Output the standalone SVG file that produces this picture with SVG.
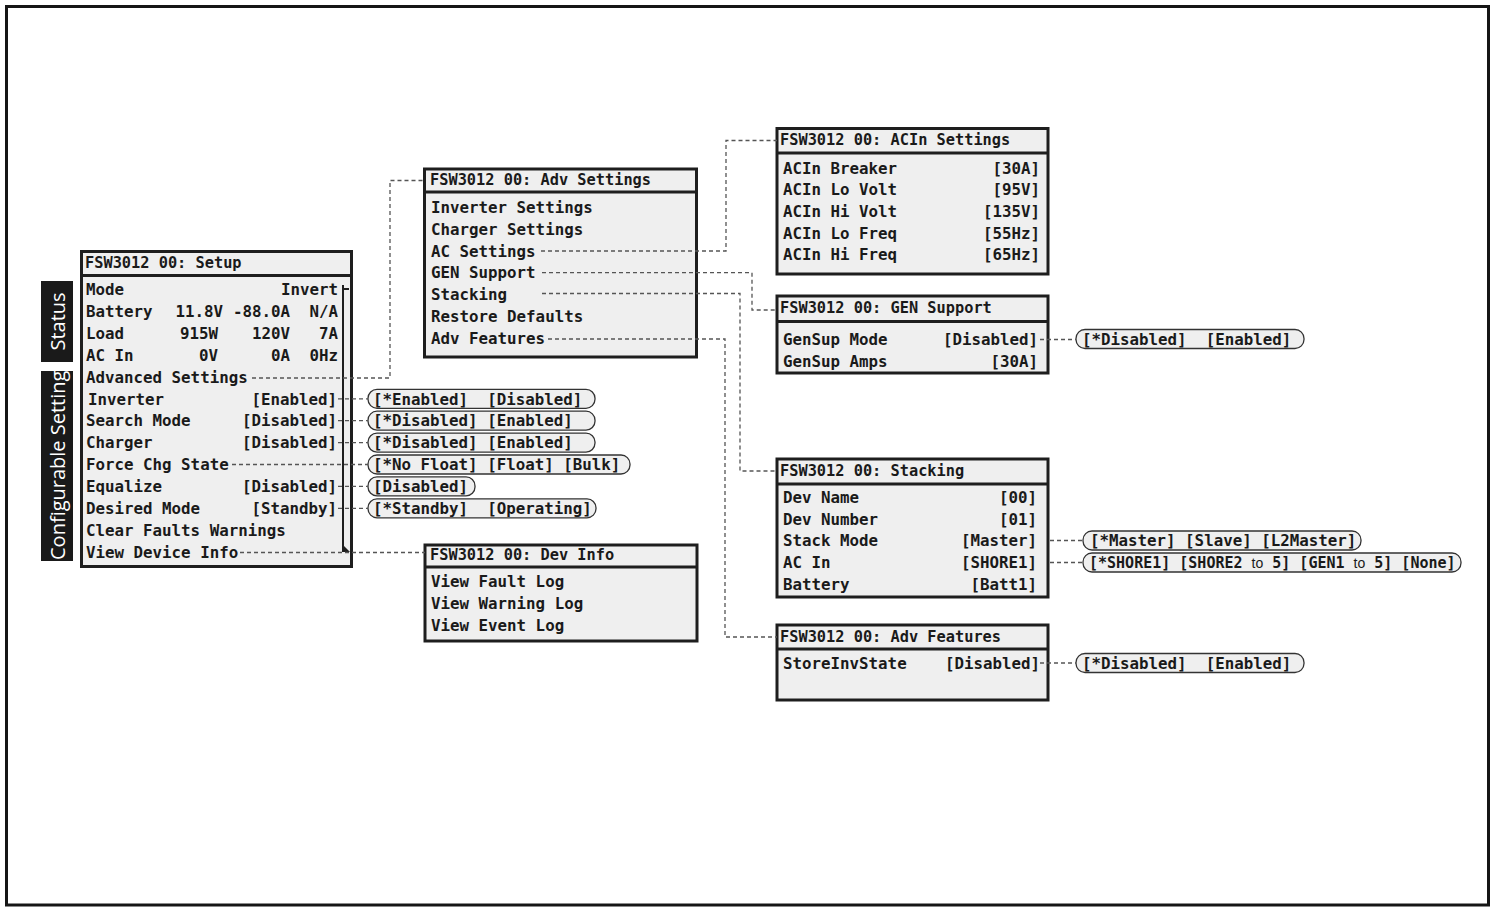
<svg xmlns="http://www.w3.org/2000/svg" width="1493" height="907" viewBox="0 0 1493 907">
<defs>
<style>
.frame{fill:#fff;stroke:#161616;stroke-width:3}
.box{fill:#efefef;stroke:#1e1e1e;stroke-width:3}
.div{stroke:#1e1e1e;stroke-width:3}
.t{font-family:"DejaVu Sans Mono","Liberation Mono",monospace;font-size:15.3px;font-weight:bold;fill:#1a1a1a}
.r{font-family:"DejaVu Sans Mono","Liberation Mono",monospace;font-size:15.8px;font-weight:bold;fill:#1a1a1a;white-space:pre}
.s{font-size:15px}
.e{text-anchor:end}
.pill{fill:#efefef;stroke:#333;stroke-width:1.3}
.c{fill:none;stroke:#555;stroke-width:1.3;stroke-dasharray:4 3}
.tab{fill:#1a1a1a}
.tabt{font-family:"Open Sans","Noto Sans",sans-serif;font-size:20px;fill:#fff}
.to{font-family:"Liberation Sans",sans-serif;font-weight:normal;font-size:14px}
.sb{fill:none;stroke:#1e1e1e;stroke-width:2}
</style>
<clipPath id="cfgclip"><rect x="41" y="371" width="32" height="190"/></clipPath>
</defs>
<rect class="frame" x="6.5" y="6.5" width="1482" height="898.5"/>

<g id="tab-status">
<rect class="tab" x="41" y="281" width="32" height="81"/>
<text class="tabt" transform="translate(64.5,321.5) rotate(-90)" text-anchor="middle">Status</text>
</g>
<g id="tab-config">
<rect class="tab" x="41" y="371" width="32" height="190"/>
<g clip-path="url(#cfgclip)">
<text class="tabt" transform="translate(64.5,560) rotate(-90)">Configurable Settings</text>
</g>
</g>

<g id="setup">
<rect class="box" x="81.5" y="251.5" width="270" height="315"/>
<line class="div" x1="81.5" y1="275.5" x2="351.5" y2="275.5"/>
<text class="t" x="85" y="268">FSW3012 00: Setup</text>
<text class="r" x="86" y="295">Mode</text>
<text class="r e" x="338" y="295">Invert</text>
<text class="r" x="86" y="316.9">Battery</text>
<text class="r e" x="223" y="316.9">11.8V</text>
<text class="r e" x="290" y="316.9">-88.0A</text>
<text class="r e" x="338" y="316.9">N/A</text>
<text class="r" x="86" y="338.8">Load</text>
<text class="r e" x="218" y="338.8">915W</text>
<text class="r e" x="290" y="338.8">120V</text>
<text class="r e" x="338" y="338.8">7A</text>
<text class="r" x="86" y="360.7">AC In</text>
<text class="r e" x="218" y="360.7">0V</text>
<text class="r e" x="290" y="360.7">0A</text>
<text class="r e" x="338" y="360.7">0Hz</text>
<text class="r" x="86" y="382.6">Advanced Settings</text>
<text class="r" x="88" y="404.5">Inverter</text>
<text class="r e" x="337" y="404.5">[Enabled]</text>
<text class="r" x="86" y="426.4">Search Mode</text>
<text class="r e" x="337" y="426.4">[Disabled]</text>
<text class="r" x="86" y="448.3">Charger</text>
<text class="r e" x="337" y="448.3">[Disabled]</text>
<text class="r" x="86" y="470.2">Force Chg State</text>
<text class="r" x="86" y="492.1">Equalize</text>
<text class="r e" x="337" y="492.1">[Disabled]</text>
<text class="r" x="86" y="514">Desired Mode</text>
<text class="r e" x="337" y="514">[Standby]</text>
<text class="r" x="86" y="535.9">Clear Faults Warnings</text>
<text class="r" x="86" y="557.8">View Device Info</text>
<path class="sb" d="M343,285 V552 M343,289 H349"/>
<path d="M343,545 L350,552 H343 Z" fill="#1e1e1e"/>
</g>

<g id="opt-inverter"><rect class="pill" x="368" y="389.3" width="227" height="19" rx="9"/><text class="r" x="373" y="404.5" xml:space="preserve">[*Enabled]  [Disabled]</text></g>
<g id="opt-search"><rect class="pill" x="368" y="411.2" width="227" height="19" rx="9"/><text class="r" x="373" y="426.4" xml:space="preserve">[*Disabled] [Enabled]</text></g>
<g id="opt-charger"><rect class="pill" x="368" y="433.1" width="227" height="19" rx="9"/><text class="r" x="373" y="448.3" xml:space="preserve">[*Disabled] [Enabled]</text></g>
<g id="opt-force"><rect class="pill" x="368" y="455" width="262" height="19" rx="9"/><text class="r" x="373" y="470.2" xml:space="preserve">[*No Float] [Float] [Bulk]</text></g>
<g id="opt-equalize"><rect class="pill" x="368" y="476.9" width="107" height="19" rx="9"/><text class="r" x="373" y="492.1">[Disabled]</text></g>
<g id="opt-desired"><rect class="pill" x="368" y="498.8" width="228" height="19" rx="9"/><text class="r" x="373" y="514" xml:space="preserve">[*Standby]  [Operating]</text></g>

<g id="adv-settings">
<rect class="box" x="424.5" y="169" width="272" height="188"/>
<line class="div" x1="424.5" y1="192" x2="696.5" y2="192"/>
<text class="t" x="430" y="185">FSW3012 00: Adv Settings</text>
<text class="r" x="431" y="213">Inverter Settings</text>
<text class="r" x="431" y="234.8">Charger Settings</text>
<text class="r" x="431" y="256.6">AC Settings</text>
<text class="r" x="431" y="278.4">GEN Support</text>
<text class="r" x="431" y="300.2">Stacking</text>
<text class="r" x="431" y="322">Restore Defaults</text>
<text class="r" x="431" y="343.8">Adv Features</text>
</g>

<g id="dev-info">
<rect class="box" x="425" y="545" width="272" height="96"/>
<line class="div" x1="425" y1="567" x2="697" y2="567"/>
<text class="t" x="430" y="560">FSW3012 00: Dev Info</text>
<text class="r" x="431" y="587">View Fault Log</text>
<text class="r" x="431" y="609">View Warning Log</text>
<text class="r" x="431" y="631">View Event Log</text>
</g>

<g id="acin-settings">
<rect class="box" x="777" y="128.5" width="271" height="145.5"/>
<line class="div" x1="777" y1="153" x2="1048" y2="153"/>
<text class="t" x="780" y="145">FSW3012 00: ACIn Settings</text>
<text class="r" x="783" y="173.5">ACIn Breaker</text>
<text class="r e" x="1040" y="173.5">[30A]</text>
<text class="r" x="783" y="195.2">ACIn Lo Volt</text>
<text class="r e" x="1040" y="195.2">[95V]</text>
<text class="r" x="783" y="216.9">ACIn Hi Volt</text>
<text class="r e" x="1040" y="216.9">[135V]</text>
<text class="r" x="783" y="238.6">ACIn Lo Freq</text>
<text class="r e" x="1040" y="238.6">[55Hz]</text>
<text class="r" x="783" y="260.3">ACIn Hi Freq</text>
<text class="r e" x="1040" y="260.3">[65Hz]</text>
</g>

<g id="gen-support">
<rect class="box" x="777" y="296" width="271" height="77"/>
<line class="div" x1="777" y1="321.5" x2="1048" y2="321.5"/>
<text class="t" x="780" y="313">FSW3012 00: GEN Support</text>
<text class="r" x="783" y="344.5">GenSup Mode</text>
<text class="r e" x="1038" y="344.5">[Disabled]</text>
<text class="r" x="783" y="366.5">GenSup Amps</text>
<text class="r e" x="1038" y="366.5">[30A]</text>
</g>
<g id="opt-gensup"><rect class="pill" x="1076" y="329.5" width="228" height="19" rx="9"/><text class="r" x="1082" y="344.5" xml:space="preserve">[*Disabled]  [Enabled]</text></g>

<g id="stacking">
<rect class="box" x="777" y="459" width="271" height="138"/>
<line class="div" x1="777" y1="484" x2="1048" y2="484"/>
<text class="t" x="780" y="475.5">FSW3012 00: Stacking</text>
<text class="r" x="783" y="502.5">Dev Name</text>
<text class="r e" x="1037" y="502.5">[00]</text>
<text class="r" x="783" y="524.5">Dev Number</text>
<text class="r e" x="1037" y="524.5">[01]</text>
<text class="r" x="783" y="546">Stack Mode</text>
<text class="r e" x="1037" y="546">[Master]</text>
<text class="r" x="783" y="568">AC In</text>
<text class="r e" x="1037" y="568">[SHORE1]</text>
<text class="r" x="783" y="590">Battery</text>
<text class="r e" x="1037" y="590">[Batt1]</text>
</g>
<g id="opt-stackmode"><rect class="pill" x="1083" y="531" width="278" height="19" rx="9"/><text class="r" x="1090" y="546" xml:space="preserve">[*Master] [Slave] [L2Master]</text></g>
<g id="opt-acin"><rect class="pill" x="1083" y="553" width="378" height="19" rx="9"/><text class="r s" x="1089" y="568" xml:space="preserve">[*SHORE1] [SHORE2 <tspan class="to">to</tspan> 5] [GEN1 <tspan class="to">to</tspan> 5] [None]</text></g>

<g id="adv-features">
<rect class="box" x="777" y="625" width="271" height="75"/>
<line class="div" x1="777" y1="649" x2="1048" y2="649"/>
<text class="t" x="780" y="641.5">FSW3012 00: Adv Features</text>
<text class="r" x="783" y="668.5">StoreInvState</text>
<text class="r e" x="1040" y="668.5">[Disabled]</text>
</g>
<g id="opt-storeinv"><rect class="pill" x="1076" y="653.5" width="228" height="19" rx="9"/><text class="r" x="1082" y="668.5" xml:space="preserve">[*Disabled]  [Enabled]</text></g>

<g id="connectors">
<path class="c" d="M252,378 H390 V180.5 H424"/>
<path class="c" d="M338,398.8 H368"/>
<path class="c" d="M338,420.7 H368"/>
<path class="c" d="M338,442.6 H368"/>
<path class="c" d="M232,464.5 H368"/>
<path class="c" d="M338,486.4 H368"/>
<path class="c" d="M338,508.3 H368"/>
<path class="c" d="M240,552.5 H425"/>
<path class="c" d="M541,251 H726 V140.5 H777"/>
<path class="c" d="M542,272.7 H752 V310 H777"/>
<path class="c" d="M542,293.5 H740 V471 H777"/>
<path class="c" d="M548,339 H725 V637 H777"/>
<path class="c" d="M1040,339.5 H1076"/>
<path class="c" d="M1050,540.5 H1083"/>
<path class="c" d="M1050,562.5 H1083"/>
<path class="c" d="M1040,663 H1076"/>
</g>
</svg>
